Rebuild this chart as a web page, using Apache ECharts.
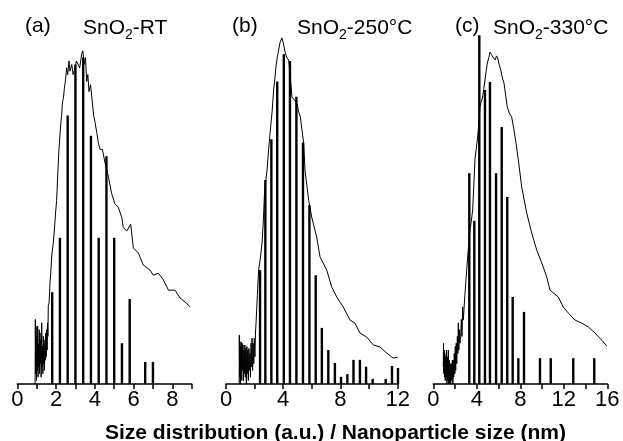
<!DOCTYPE html>
<html><head><meta charset="utf-8">
<script src="https://cdn.jsdelivr.net/npm/echarts@6/dist/echarts.min.js"></script>
<style>html,body{margin:0;padding:0;background:#fff}#c{width:623px;height:441px}</style>
</head><body><div id="c"></div>
<script>
// ---- data (a.u. heights; x in nm) ----
const panelNames = ['SnO2-RT', 'SnO2-250°C', 'SnO2-330°C'];
const panelTags = ['(a)', '(b)', '(c)'];
const xMax = [9, 12, 16];
const tickStep = [1, 2, 2];
const tickLabelsA = [0, 2, 4, 6, 8];
const tickLabelsB = [0, 4, 8, 12];
const tickLabelsC = [0, 4, 8, 12, 16];

const barsAx = [1.8, 2.2, 2.6, 3.0, 3.4, 3.8, 4.2, 4.6, 5.0, 5.4, 5.8, 6.6, 7.0];
const barsAy = [27, 43, 79, 94, 96, 73, 43, 67, 43, 12, 25, 6.5, 6.5];
const barsBx = [2.38, 2.75, 3.17, 3.58, 4.04, 4.47, 4.92, 5.38, 5.83, 6.27, 6.70, 7.15, 7.61, 8.04, 8.48, 8.91, 9.36, 9.79, 10.25, 11.16, 11.60, 12.02];
const barsBy = [33.5, 60, 72, 89, 97, 95, 84.5, 71, 52.6, 32, 16.5, 10, 6.2, 2.1, 2.9, 7.1, 7.1, 5.1, 1.5, 1.5, 5.3, 4.7];
const barsCx = [3.31, 3.77, 4.23, 4.75, 5.21, 5.77, 6.29, 6.80, 7.30, 7.82, 8.34, 9.81, 10.80, 12.87, 14.80];
const barsCy = [62, 48, 102.6, 86.5, 88.8, 62, 75.6, 55, 25.6, 7.6, 21.2, 7.6, 7.6, 7.6, 7.6];

const curveAx = [0.92,0.93,0.95,0.97,0.99,1.01,1.03,1.05,1.07,1.09,1.11,1.13,1.15,1.17,1.19,1.21,1.23,1.26,1.28,1.30,1.32,1.34,1.36,1.38,1.40,1.43,1.45,1.47,1.49,1.52,1.54,1.56,1.58,1.60,1.64,1.69,1.73,1.78,1.85,1.91,1.97,2.03,2.09,2.15,2.20,2.25,2.29,2.33,2.38,2.43,2.48,2.55,2.60,2.67,2.72,2.81,2.88,2.98,3.05,3.15,3.22,3.32,3.38,3.46,3.52,3.58,3.64,3.70,3.78,3.87,3.94,4.01,4.10,4.18,4.27,4.39,4.53,4.70,4.87,5.04,5.21,5.39,5.47,5.65,5.85,5.99,6.25,6.50,6.85,7.02,7.28,7.54,7.80,8.14,8.40,8.66,8.92];
const curveAy = [0,19,3,17,1,14,4,17,2,12,5,16,3,15,6,13,2,18,5,11,3,14,6,12,4,13,7,15,8,16,10,18,14,23,24,30,33,38,41,45,50,54,62,69,73,77,79,83,84,87,89,93,91,95,92,94,91,93,95,95,93,97,98,94,96,89,91,86,88,83,79,77,74,71,69,69,65,61,56,53,52,49,46,45,47,40,38.5,35,33.5,32,32.6,30.6,27.6,27.6,25.3,24.1,22.7];

const curveBx = [0.92,0.93,0.95,0.98,1.00,1.03,1.05,1.07,1.10,1.13,1.16,1.19,1.22,1.25,1.28,1.32,1.35,1.38,1.42,1.46,1.49,1.52,1.56,1.60,1.63,1.67,1.71,1.75,1.79,1.82,1.86,1.90,1.94,1.98,2.02,2.06,2.10,2.19,2.28,2.40,2.52,2.61,2.70,2.87,2.98,3.10,3.22,3.33,3.42,3.49,3.58,3.68,3.78,3.91,4.02,4.14,4.25,4.38,4.50,4.61,4.78,4.96,5.08,5.20,5.30,5.43,5.52,5.78,5.99,6.34,6.57,7.04,7.39,7.74,8.20,8.67,9.01,9.36,9.83,10.29,10.76,11.23,11.69,12.0];
const curveBy = [0,14.4,2,12.4,0,11,3,12.4,1,12,4,11.5,1,10,3,11.5,2,10.5,0,11,3,10,1,10.5,4,9,2,12,5,13.5,4,12,6,13.5,8,15,18,26,33.5,37,41.5,48,57,63,69,74.7,80,86.5,90,93.2,96,98.2,100.5,101.8,100,97.4,96,95.3,90,84.4,83.5,82.6,80,78.5,75,70.9,63,54,49.1,43.2,37.4,33.5,28.5,25.6,22.6,18.8,17.9,15,13.8,11.5,10.9,9.1,7.6,7.9];

const curveCx = [0.92,0.94,0.97,1.00,1.03,1.06,1.10,1.14,1.17,1.21,1.25,1.29,1.33,1.38,1.42,1.46,1.50,1.55,1.60,1.65,1.70,1.75,1.80,1.84,1.88,1.93,1.98,2.02,2.06,2.11,2.16,2.21,2.26,2.30,2.35,2.40,2.45,2.52,2.58,2.64,2.70,2.76,2.90,3.07,3.20,3.37,3.50,3.62,3.72,3.83,3.94,4.05,4.17,4.29,4.40,4.54,4.65,4.75,4.86,4.97,5.10,5.21,5.33,5.46,5.58,5.70,5.80,5.92,6.05,6.20,6.35,6.50,6.65,6.80,6.99,7.21,7.42,7.60,7.82,8.13,8.59,9.05,9.51,9.97,10.43,10.73,11.03,11.49,11.95,12.41,13.03,13.65,14.25,14.87,15.49,15.94];
const curveCy = [5,12,3,10,2,9,1,8,2,10,0,8,1,10,0,7,0,6,0,6,1,7,0,7,2,9,3,11,4,12,6,14,9,18,10,16,12,14,19,14,22.7,18.8,26,33.5,39,45.3,48,51.2,58,65.9,69,71.8,76,81.5,83,84.4,87,89.4,92,94.4,96,97.6,97,96.2,96,95.3,96.5,95.9,94,92.4,90,88.5,85,81.5,79.7,78.5,74.7,71,65.9,57.9,50.3,44.4,39.4,35.6,31.5,27.6,26.8,25.6,22.6,20.9,18.8,17.9,16.8,15,12.9,11.2];

// ---- layout ----
const gridLeft = [17.3, 226, 433.3];
const gridWidth = [174.4, 171.7, 174];
const tickLabelSets = [tickLabelsA, tickLabelsB, tickLabelsC];
const barsX = [barsAx, barsBx, barsCx];
const barsY = [barsAy, barsBy, barsCy];
const curveX = [curveAx, curveBx, curveCx];
const curveY = [curveAy, curveBy, curveCy];
const FONT = 'Liberation Sans, Arial, sans-serif';

const zip = (xs, ys) => xs.map((x, i) => [x, ys[i]]);

const grids = [], xAxes = [], yAxes = [], series = [], titles = [];
const tagLeft = [25, 232, 455];
const nameLeft = [83, 297, 493];
for (let i = 0; i < 3; i++) {
  grids.push({left: gridLeft[i], width: gridWidth[i], top: 10, bottom: 57});
  const labs = tickLabelSets[i];
  xAxes.push({
    type: 'value', gridIndex: i, min: 0, max: xMax[i], interval: tickStep[i],
    splitLine: {show: false},
    axisLine: {lineStyle: {color: '#000', width: 1.5}},
    axisTick: {inside: false, length: 5, lineStyle: {color: '#000', width: 1.5}},
    axisLabel: {color: '#000', fontSize: 22, fontFamily: FONT, margin: 5,
      formatter: v => labs.includes(v) ? String(v) : ''}
  });
  yAxes.push({type: 'value', gridIndex: i, min: 0, max: 110, show: false});
  series.push({
    type: 'bar', xAxisIndex: i, yAxisIndex: i, barWidth: 2.4,
    itemStyle: {color: '#000'}, data: zip(barsX[i], barsY[i]), animation: false
  });
  series.push({
    type: 'line', xAxisIndex: i, yAxisIndex: i, showSymbol: false, symbol: 'none',
    lineStyle: {color: '#000', width: 1}, data: zip(curveX[i], curveY[i]), animation: false
  });
  const nm = panelNames[i];
  const head = nm.split('2')[0];
  const tail = nm.slice(head.length + 1);
  titles.push({left: tagLeft[i], top: 16, padding: 0, text: panelTags[i],
    textStyle: {fontSize: 21, fontWeight: 'normal', color: '#000', fontFamily: FONT}});
  titles.push({left: nameLeft[i], top: 14, padding: 0,
    text: '{n|' + head + '}{s|2}{n|' + tail + '}',
    textStyle: {color: '#000', fontFamily: FONT, fontWeight: 'normal',
      rich: {n: {fontSize: 21, lineHeight: 28, fontFamily: FONT, color: '#000'},
             s: {fontSize: 14, lineHeight: 14, verticalAlign: 'bottom', fontFamily: FONT, color: '#000'}}}});
}
titles.push({left: 105, top: 423, padding: 0, text: 'Size distribution (a.u.) / Nanoparticle size (nm)',
  textStyle: {fontSize: 21, fontWeight: 'bold', color: '#000', fontFamily: FONT}});

const chart = echarts.init(document.getElementById('c'), null, {renderer: 'canvas'});
chart.setOption({
  backgroundColor: '#fff', animation: false,
  title: titles, grid: grids, xAxis: xAxes, yAxis: yAxes, series: series
});
</script></body></html>
